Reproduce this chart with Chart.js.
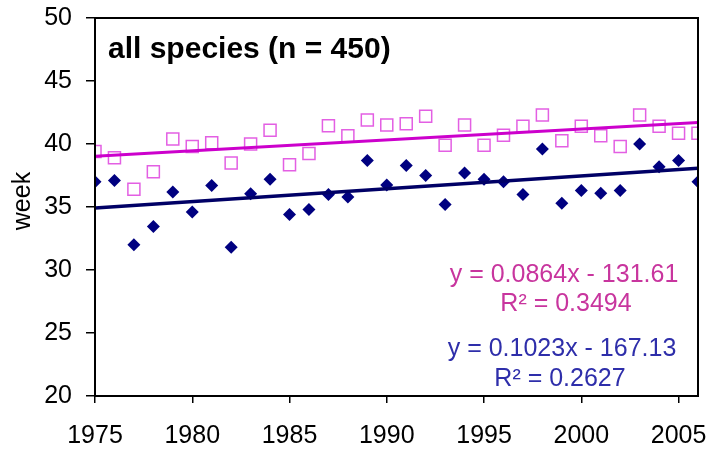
<!DOCTYPE html>
<html>
<head>
<meta charset="utf-8">
<script src="https://cdn.jsdelivr.net/npm/chart.js@4/dist/chart.umd.min.js"></script>
<style>
  html, body { margin: 0; padding: 0; background: #fff; }
  #wrap { width: 711px; height: 449px; }
</style>
</head>
<body>
<div id="wrap"><canvas id="myChart" width="711" height="449"></canvas></div>
<script>
// years 1975 - 2006
const years = [1975,1976,1977,1978,1979,1980,1981,1982,1983,1984,1985,1986,1987,1988,1989,1990,
  1991,1992,1993,1994,1995,1996,1997,1998,1999,2000,2001,2002,2003,2004,2005,2006];

// carrés roses
const pinkWeeks = [39.4,38.9,36.4,37.8,40.4,39.8,40.1,38.5,40.0,41.1,38.35,39.25,41.45,40.65,41.9,41.5,
  41.6,42.2,39.9,41.5,39.9,40.7,41.4,42.3,40.25,41.4,40.65,39.8,42.3,41.4,40.85,40.85];

// losanges bleus
const navyWeeks = [37.0,37.1,32.0,33.45,36.2,34.6,36.7,31.8,36.05,37.2,34.4,34.8,36.0,35.8,38.7,36.75,
  38.3,37.5,35.2,37.7,37.2,37.0,36.0,39.6,35.3,36.3,36.1,36.3,40.0,38.2,38.7,37.0];

// droites de tendance (pente, ordonnée) telles qu'affichées
const pinkTrend = [0.0864, -131.61];
const navyTrend = [0.1023, -167.13];

const xTicks = [1975,1980,1985,1990,1995,2000,2005];
const yTicks = [20,25,30,35,40,45,50];

function trendPoints(t) {
  const x0 = years[0], x1 = years[years.length - 1];
  return [{x: x0, y: t[0] * x0 + t[1]}, {x: x1, y: t[0] * x1 + t[1]}];
}

const pinkPts = years.map((y, i) => ({x: y, y: pinkWeeks[i]}));
const navyPts = years.map((y, i) => ({x: y, y: navyWeeks[i]}));

// textes + cadre
const decor = {
  id: 'decor',
  afterDraw(chart) {
    const c = chart.ctx, a = chart.chartArea;
    c.save();
    c.strokeStyle = '#000';
    c.lineWidth = 2;
    c.strokeRect(a.left, a.top, a.right - a.left, a.bottom - a.top);

    c.fillStyle = '#000';
    c.font = 'bold 30px "Liberation Sans", Arial, sans-serif';
    c.textAlign = 'left';
    c.textBaseline = 'alphabetic';
    c.fillText('all species (n = 450)', 108, 58);

    // titre de l'axe y
    c.save();
    c.translate(23, 201);
    c.rotate(-Math.PI / 2);
    c.font = '25px "Liberation Sans", Arial, sans-serif';
    c.textAlign = 'center';
    c.textBaseline = 'middle';
    c.fillText('week', 0, 0);
    c.restore();

    c.font = '25px "Liberation Sans", Arial, sans-serif';
    c.textAlign = 'center';
    c.textBaseline = 'middle';
    c.fillStyle = '#C8359E';
    c.fillText('y = 0.0864x - 131.61', 564, 275);
    c.fillText('R² = 0.3494', 566, 304);
    c.fillStyle = '#2E2EAA';
    c.fillText('y = 0.1023x - 167.13', 562, 349);
    c.fillText('R² = 0.2627', 560, 379);
    c.restore();
  }
};

const ctx = document.getElementById('myChart');

var chart = new Chart(ctx, {
  type: 'scatter',
  data: {
    datasets: [
      {
        label: 'tendance rose',
        data: trendPoints(pinkTrend),
        showLine: true,
        borderColor: '#CC00CC',
        borderWidth: 3,
        pointRadius: 0,
        order: 1
      },
      {
        label: 'tendance bleue',
        data: trendPoints(navyTrend),
        showLine: true,
        borderColor: '#000066',
        borderWidth: 3.5,
        pointRadius: 0,
        order: 2
      },
      {
        label: 'rose',
        data: pinkPts,
        pointStyle: 'rect',
        pointRadius: 8.5,
        pointBorderWidth: 1.5,
        pointBorderColor: '#E35FE3',
        pointBackgroundColor: 'rgba(255,255,255,0)',
        order: 3
      },
      {
        label: 'bleu',
        data: navyPts,
        pointStyle: 'rectRot',
        pointRadius: 6.5,
        pointBorderWidth: 0,
        pointBackgroundColor: '#000080',
        pointBorderColor: '#000080',
        order: 4
      }
    ]
  },
  options: {
    responsive: false,
    animation: false,
    events: [],
    layout: {
      padding: {left: 0, right: 13, top: 18, bottom: 0}
    },
    plugins: {
      legend: false,
      tooltip: {enabled: false}
    },
    scales: {
      x: {
        type: 'linear',
        min: 1975,
        max: 2006,
        afterBuildTicks: s => { s.ticks = xTicks.map(v => ({value: v})); },
        afterFit: s => { s.height = 53; s.paddingLeft = 0; s.paddingRight = 0; },
        grid: {drawOnChartArea: false, drawTicks: true, tickLength: 7, color: '#000', lineWidth: 1.5},
        border: {display: true, color: '#000', width: 2},
        ticks: {
          color: '#000',
          padding: 18,
          maxRotation: 0,
          autoSkip: false,
          callback: v => String(v),
          font: {family: '"Liberation Sans", Arial, sans-serif', size: 25}
        }
      },
      y: {
        min: 20,
        max: 50,
        afterBuildTicks: s => { s.ticks = yTicks.map(v => ({value: v})); },
        afterFit: s => { s.width = 95; s.paddingTop = 0; s.paddingBottom = 0; },
        grid: {drawOnChartArea: false, drawTicks: true, tickLength: 9, color: '#000', lineWidth: 1.5},
        border: {display: true, color: '#000', width: 2},
        ticks: {
          color: '#000',
          padding: 14,
          callback: v => String(v),
          font: {family: '"Liberation Sans", Arial, sans-serif', size: 25}
        }
      }
    }
  },
  plugins: [decor]
});
</script>
</body>
</html>
